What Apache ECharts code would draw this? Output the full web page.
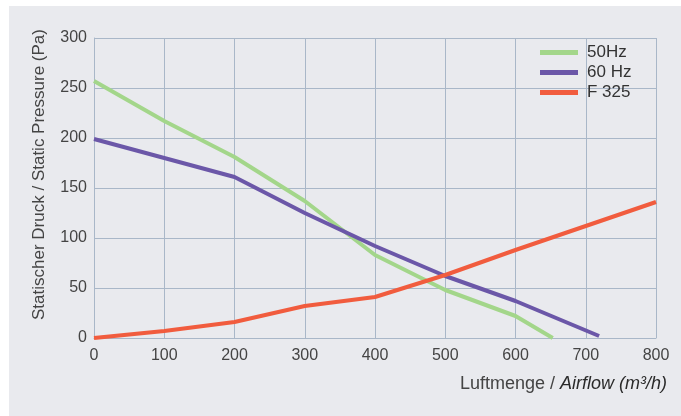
<!DOCTYPE html>
<html><head><meta charset="utf-8">
<script src="https://cdn.jsdelivr.net/npm/echarts@6/dist/echarts.min.js"></script>
<style>html,body{margin:0;padding:0;background:#fff;}#c{width:681px;height:416px;}</style>
</head><body><div id="c"></div>
<script>
var xLabels = [0, 100, 200, 300, 400, 500, 600, 700, 800];
var series50Hz = [[0, 257], [100, 217], [200, 181], [300, 137], [400, 83], [500, 48], [600, 22], [653, 0]];
var series60Hz = [[0, 199], [100, 180], [200, 161], [300, 125], [400, 92], [500, 62], [600, 37], [719, 2]];
var seriesF325 = [[0, 0], [100, 7], [200, 16], [300, 32], [400, 41], [500, 63], [600, 88], [700, 112], [800, 136]];
var seriesNames = ['50Hz', '60 Hz', 'F 325'];
var colors = ['#a3d68a', '#6b57a8', '#f15c3e'];

var chart = echarts.init(document.getElementById('c'), null, {renderer: 'canvas'});
var font = 'Liberation Sans, Arial, sans-serif';
var gridColor = '#a9b7c8';
function mk(name, data, color) {
  return {name: name, type: 'line', data: data, symbol: 'none', smooth: false,
    lineStyle: {color: color, width: 4}, itemStyle: {color: color}};
}
chart.setOption({
  animation: false,
  backgroundColor: '#ffffff',
  graphic: [{type: 'rect', left: 9, top: 6, shape: {width: 672, height: 410}, style: {fill: '#e9eaee'}, z: -10}],
  grid: {left: 94, top: 38, right: 25, bottom: 78, containLabel: false},
  legend: {
    orient: 'vertical', left: 535, top: 39, itemWidth: 38, itemHeight: 5, itemGap: 3,
    icon: 'rect',
    textStyle: {fontFamily: font, fontSize: 17, color: '#333', lineHeight: 17, padding: [0, 0, 0, 4]},
    data: seriesNames
  },
  xAxis: {
    type: 'value', min: 0, max: 800, interval: 100,
    axisLine: {show: true, lineStyle: {color: gridColor, width: 1}},
    axisTick: {show: false},
    axisLabel: {fontFamily: font, fontSize: 16, color: '#444', margin: 10},
    splitLine: {show: true, lineStyle: {color: gridColor, width: 1}},
    name: '{a|Luftmenge / }{b|Airflow (m³/h)}',
    nameLocation: 'end', nameGap: 11,
    nameTextStyle: {align: 'right', verticalAlign: 'top', padding: [37, 0, 0, 0],
      rich: {a: {fontFamily: font, fontSize: 18, color: '#444'},
             b: {fontFamily: font, fontSize: 18, color: '#2a2a2a', fontStyle: 'italic'}}}
  },
  yAxis: {
    type: 'value', min: 0, max: 300, interval: 50,
    axisLine: {show: true, lineStyle: {color: gridColor, width: 1}},
    axisTick: {show: false},
    axisLabel: {fontFamily: font, fontSize: 16, color: '#444', margin: 7},
    splitLine: {show: true, lineStyle: {color: gridColor, width: 1}},
    name: 'Statischer Druck / Static Pressure (Pa)',
    nameLocation: 'middle', nameGap: 46, nameRotate: 90,
    nameTextStyle: {fontFamily: font, fontSize: 17, color: '#444', padding: [0, 0, 0, 27]}
  },
  series: [
    mk(seriesNames[0], series50Hz, colors[0]),
    mk(seriesNames[1], series60Hz, colors[1]),
    mk(seriesNames[2], seriesF325, colors[2])
  ]
});
</script></body></html>
